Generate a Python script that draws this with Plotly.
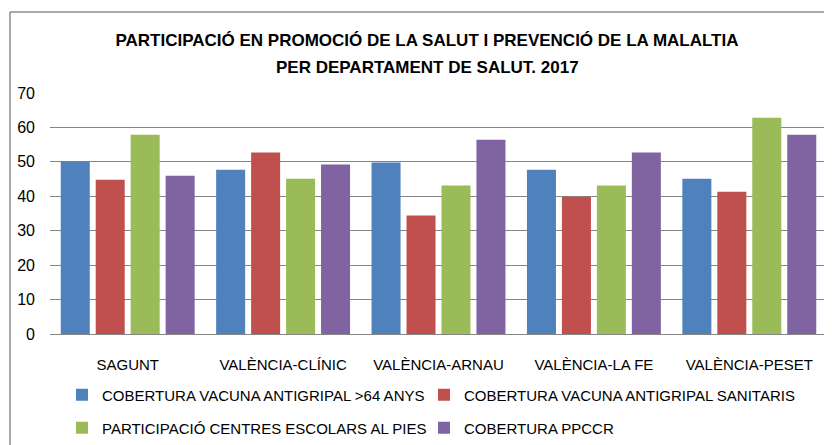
import plotly.graph_objects as go

categories = ["SAGUNT", "VALÈNCIA-CLÍNIC", "VALÈNCIA-ARNAU", "VALÈNCIA-LA FE", "VALÈNCIA-PESET"]
series_names = [
    "COBERTURA VACUNA ANTIGRIPAL >64 ANYS",
    "COBERTURA VACUNA ANTIGRIPAL SANITARIS",
    "PARTICIPACIÓ CENTRES ESCOLARS AL PIES",
    "COBERTURA PPCCR",
]
vacuna_64 = [50.1, 47.7, 49.8, 47.7, 45.1]
vacuna_sanitaris = [44.8, 52.7, 34.4, 39.9, 41.3]
centres_pies = [57.9, 45.1, 43.1, 43.1, 62.8]
ppccr = [46.0, 49.2, 56.4, 52.7, 57.9]
y_ticks = [0, 10, 20, 30, 40, 50, 60, 70]
title_line1 = "PARTICIPACIÓ EN PROMOCIÓ DE LA SALUT I PREVENCIÓ DE LA MALALTIA"
title_line2 = "PER DEPARTAMENT DE SALUT. 2017"

colors = ["#4F81BD", "#C0504D", "#9BBB59", "#8064A2"]
values = [vacuna_64, vacuna_sanitaris, centres_pies, ppccr]
legend_ids = ["legend", "legend2", "legend3", "legend4"]
# page-pixel anchor of each legend entry (left x, middle y)
legend_pos = [(62, 395), (424, 395), (62, 428), (424, 428)]

FONT = "Liberation Sans, Arial, sans-serif"

fig = go.Figure()
for name, vals, col, lg in zip(series_names, values, colors, legend_ids):
    fig.add_trace(go.Bar(x=categories, y=vals, name=name, marker_color=col,
                         marker_line_width=0, legend=lg, showlegend=True))

# page offset (body margin) compensation
OFF = 8
W, H = 832 - OFF, 445 - OFF
L, R, T, B = 50 - OFF, 5, 93 - OFF, 445 - 334
pw = W - L - R
ph = H - T - B

def px_x(x):
    # page pixel -> paper coordinate
    return (x - OFF - L) / pw

def px_y(y):
    return (H - B - (y - OFF)) / ph

legend_layouts = {}
for lg, (lx, ly) in zip(legend_ids, legend_pos):
    legend_layouts[lg] = dict(orientation="v", xanchor="left", yanchor="middle",
                              x=px_x(lx), y=px_y(ly), visible=True,
                              font=dict(family=FONT, size=15, color="#000000"),
                              bgcolor="rgba(0,0,0,0)", itemclick=False, itemdoubleclick=False)

fig.update_layout(
    width=W, height=H,
    showlegend=True,
    margin=dict(l=L, r=R, t=T, b=B, autoexpand=False),
    paper_bgcolor="white", plot_bgcolor="white",
    barmode="group", bargap=0.10, bargroupgap=0.17,
    title=dict(text=title_line1,
               x=(427 - OFF) / W, xanchor="center", y=1 - (40 - OFF) / H, yanchor="middle",
               font=dict(family=FONT, size=17, color="#000000", weight="bold")),
    annotations=[dict(text=title_line2, xref="paper", yref="paper",
                      x=px_x(427), y=px_y(68), xanchor="center", yanchor="middle",
                      showarrow=False,
                      font=dict(family=FONT, size=17, color="#000000", weight="bold"))],
    font=dict(family=FONT, size=15, color="#000000"),
    xaxis=dict(showgrid=False, showline=False, ticks="", ticklabelstandoff=20,
               tickfont=dict(family=FONT, size=15, color="#000000")),
    yaxis=dict(range=[0, 70], tickvals=y_ticks, showgrid=True, gridcolor="#868686",
               gridwidth=1, zeroline=True, zerolinecolor="#868686", zerolinewidth=1,
               showline=False, ticks="", ticklabelstandoff=14,
               tickfont=dict(family=FONT, size=16, color="#000000")),
    shapes=[
        dict(type="line", xref="paper", yref="paper", x0=px_x(10), x1=px_x(10), y0=px_y(12), y1=px_y(460),
             line=dict(color="#8C8C8C", width=1.5)),
        dict(type="line", xref="paper", yref="paper", x0=px_x(10), x1=px_x(850), y0=px_y(12), y1=px_y(12),
             line=dict(color="#8C8C8C", width=1.5)),
    ],
    **legend_layouts,
)

fig.write_html("out.html")
